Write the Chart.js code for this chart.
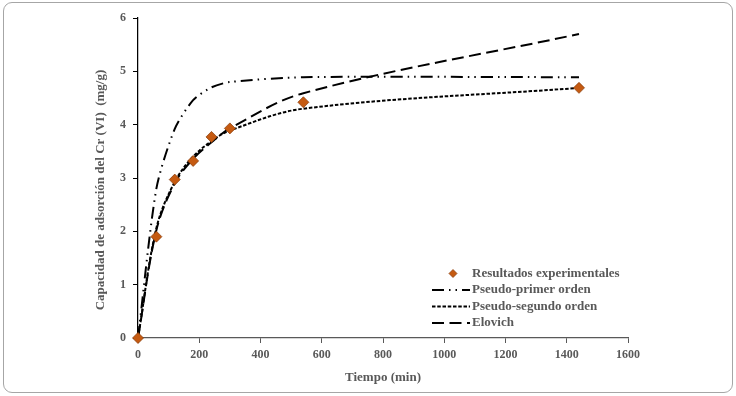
<!DOCTYPE html>
<html><head><meta charset="utf-8">
<script src="https://cdn.jsdelivr.net/npm/chart.js@4/dist/chart.umd.min.js"></script>
<style>
html,body{margin:0;padding:0;background:#fff;}
#wrap{position:relative;width:736px;height:396px;}
#frame{position:absolute;left:3px;top:2px;width:728px;height:389px;border:1px solid #a6a6a6;border-radius:9px;}
canvas{position:absolute;left:0;top:0;}
</style></head><body>
<div id="wrap"><div id="frame"></div><canvas id="c" width="736" height="396"></canvas></div>
<script>
// Data (time in minutes, adsorption capacity in mg/g)
const timeMin = [0, 60, 120, 180, 240, 300, 540, 1440];
const experimental = [0, 1.90, 2.97, 3.32, 3.77, 3.93, 4.42, 4.69];
const pseudoFirst = [0, 2.80, 3.92, 4.46, 4.70, 4.80, 4.89, 4.89];
const pseudoSecond = [0, 2.06, 2.93, 3.40, 3.69, 3.89, 4.30, 4.69];
const elovich = [0, 2.02, 2.90, 3.36, 3.67, 3.93, 4.59, 5.70];
const seriesNames = ['Resultados experimentales', 'Pseudo-primer orden', 'Pseudo-segundo orden', 'Elovich'];
const xTitle = 'Tiempo (min)';
const yTitle = 'Capacidad de adsorción del Cr (VI)  (mg/g)';

const FONT = 'Liberation Serif';
const GRAY = '#595959';
const pts = arr => timeMin.map((t, i) => ({x: t, y: arr[i]}));

const dashPFO = [12, 5, 1.5, 5, 1.5, 5];
const dashPSO = [3.5, 1.75];
const dashElo = [12, 5.5];

const lineDs = (label, arr, dash, tension) => ({
  label, data: pts(arr), showLine: true, pointRadius: 0, pointHoverRadius: 0,
  borderColor: '#000', borderWidth: 2, borderDash: dash, fill: false,
  tension: tension
});

const annot = {
  id: 'annot',
  afterDraw(chart) {
    const ctx = chart.ctx;
    ctx.save();
    // y-axis title
    ctx.fillStyle = GRAY;
    ctx.font = 'bold 13px "' + FONT + '"';
    ctx.textAlign = 'center';
    ctx.textBaseline = 'middle';
    ctx.translate(101, 190);
    ctx.rotate(-Math.PI / 2);
    ctx.fillText(yTitle, 0, 0);
    ctx.restore();

    // legend
    ctx.save();
    const rows = [273.5, 290, 306.5, 323];
    const x0 = 432, x1 = 470, tx = 472;
    ctx.beginPath();
    const cx = 453, cy = rows[0], r = 4;
    ctx.moveTo(cx, cy - r); ctx.lineTo(cx + r, cy); ctx.lineTo(cx, cy + r); ctx.lineTo(cx - r, cy); ctx.closePath();
    ctx.fillStyle = '#c55a11'; ctx.fill();
    ctx.strokeStyle = '#8a3d0c'; ctx.lineWidth = 0.75; ctx.stroke();
    const dashes = [dashPFO, dashPSO, dashElo];
    ctx.strokeStyle = '#000'; ctx.lineWidth = 2;
    for (let i = 0; i < 3; i++) {
      ctx.setLineDash(dashes[i]);
      ctx.beginPath(); ctx.moveTo(x0, rows[i + 1]); ctx.lineTo(x1, rows[i + 1]); ctx.stroke();
    }
    ctx.setLineDash([]);
    ctx.fillStyle = GRAY;
    ctx.font = 'bold 13px "' + FONT + '"';
    ctx.textAlign = 'left';
    ctx.textBaseline = 'middle';
    for (let i = 0; i < 4; i++) ctx.fillText(seriesNames[i], tx, rows[i]);
    ctx.restore();
  }
};

new Chart(document.getElementById('c'), {
  type: 'scatter',
  data: {
    datasets: [
      {
        label: seriesNames[0], data: pts(experimental),
        pointStyle: 'rectRot', pointRadius: 5.5, pointHoverRadius: 5.5,
        backgroundColor: '#c55a11', borderColor: '#8a3d0c', borderWidth: 0.75,
        clip: false
      },
      lineDs(seriesNames[1], pseudoFirst, dashPFO, 0.25),
      lineDs(seriesNames[2], pseudoSecond, dashPSO, 0.35),
      lineDs(seriesNames[3], elovich, dashElo, 0.35)
    ]
  },
  options: {
    responsive: false,
    animation: false,
    events: [],
    layout: {padding: {top: 18, right: 108, left: 0, bottom: 0}},
    plugins: {legend: {display: false}, tooltip: {enabled: false}},
    scales: {
      x: {
        type: 'linear', min: 0, max: 1600,
        ticks: {stepSize: 200, color: GRAY, padding: 5, maxRotation: 0,
          font: {family: FONT, weight: 'bold', size: 12},
          callback: v => String(v)},
        grid: {drawOnChartArea: false, drawTicks: true, tickLength: 5, color: GRAY},
        border: {display: true, color: GRAY, width: 1.25},
        title: {display: true, text: xTitle, color: GRAY,
          font: {family: FONT, weight: 'bold', size: 13}, padding: {top: 0, bottom: 11}},
        afterFit(s) { s.height = 58; }
      },
      y: {
        min: 0, max: 6,
        ticks: {stepSize: 1, color: GRAY, padding: 7,
          font: {family: FONT, weight: 'bold', size: 12},
          callback: v => String(v)},
        grid: {drawOnChartArea: false, drawTicks: true, tickLength: 5, color: '#000'},
        border: {display: true, color: '#000', width: 1.25},
        title: {display: false},
        afterFit(s) { s.width = 138; }
      }
    }
  },
  plugins: [annot]
});
</script>
</body></html>
